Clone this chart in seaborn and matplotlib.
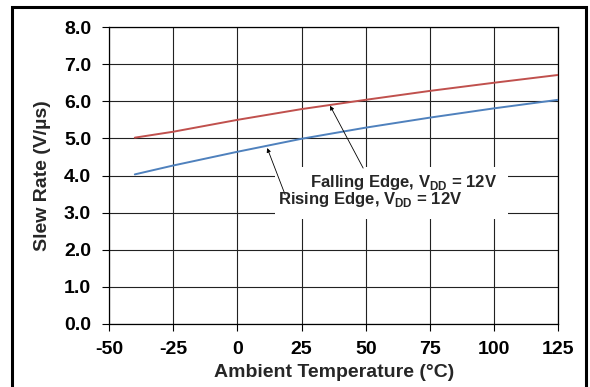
import matplotlib
matplotlib.use("Agg")
import matplotlib.pyplot as plt
import numpy as np
import pandas as pd
import seaborn as sns
from matplotlib.patches import Rectangle

temps = [-40, -25, 0, 25, 50, 75, 100, 125]
falling = [5.02, 5.18, 5.50, 5.79, 6.04, 6.28, 6.50, 6.71]
rising = [4.03, 4.27, 4.64, 4.99, 5.29, 5.56, 5.81, 6.04]
x_ticks = [-50, -25, 0, 25, 50, 75, 100, 125]
y_ticks = [0, 1, 2, 3, 4, 5, 6, 7, 8]

sns.set_style("white")
plt.rcParams["font.family"] = ["Liberation Sans", "DejaVu Sans"]
plt.rcParams["font.weight"] = "bold"
plt.rcParams["axes.unicode_minus"] = False
plt.rcParams["mathtext.fontset"] = "custom"
plt.rcParams["mathtext.bf"] = "Liberation Sans:bold"
plt.rcParams["mathtext.rm"] = "Liberation Sans:bold"

df = pd.DataFrame({
    "temp": temps * 2,
    "rate": falling + rising,
    "edge": ["Falling"] * len(temps) + ["Rising"] * len(temps),
})

fig = plt.figure(figsize=(5.9, 3.87), dpi=100)
ax = fig.add_axes([0.185, 0.163, 0.761, 0.767])

sns.lineplot(data=df, x="temp", y="rate", hue="edge",
             palette={"Falling": "#C0504D", "Rising": "#4F81BD"},
             linewidth=1.4, legend=False, ax=ax, zorder=3)

ax.set_xlim(-50, 125)
ax.set_ylim(0, 8)
ax.set_xticks(x_ticks)
ax.set_yticks(y_ticks)
ax.set_yticklabels([f"{v:.1f}" for v in y_ticks])
ax.grid(True, color="#222222", linewidth=0.8)
ax.set_axisbelow(True)
for s in ax.spines.values():
    s.set_color("black")
    s.set_linewidth(0.9)
ax.tick_params(axis="both", direction="out", length=5, width=0.8, colors="black",
               labelsize=14, bottom=True, left=True)
ax.tick_params(axis="x", pad=7)
ax.tick_params(axis="y", pad=8)
for lbl in ax.get_xticklabels() + ax.get_yticklabels():
    lbl.set_fontweight("bold")

ax.set_xlabel("Ambient Temperature (°C)", fontsize=14, fontweight="bold", va="center")
ax.xaxis.set_label_coords(0.5, -49 / 297)
ax.set_ylabel("Slew Rate (V/µs)", fontsize=14, fontweight="bold", labelpad=9)

# white box behind the annotations
ax.add_patch(Rectangle((14.7, 2.83), 90.8, 1.40, facecolor="white",
                       edgecolor="none", zorder=2))

arrow = dict(arrowstyle="-|>", color="black", lw=0.6, mutation_scale=6,
             shrinkA=0, shrinkB=0)
ax.annotate("", xy=(36.1, 5.88), xytext=(49.0, 4.20), arrowprops=arrow, zorder=4)
ax.annotate("", xy=(11.6, 4.74), xytext=(18.6, 3.48), arrowprops=arrow, zorder=4)
ax.text(28.3, 3.80, r"Falling Edge, V$_{\mathbf{DD}}$ = 12V", fontsize=12,
        fontweight="bold", ha="left", va="center", zorder=4)
ax.text(15.9, 3.34, r"Rising Edge, V$_{\mathbf{DD}}$ = 12V", fontsize=12,
        fontweight="bold", ha="left", va="center", zorder=4)

# outer frame
fig.patches.append(Rectangle((12 / 590, -0.05), 574 / 590, 1.05 - 7 / 387,
                             transform=fig.transFigure, fill=False,
                             edgecolor="black", linewidth=2.2, figure=fig))

fig.savefig("out.png", dpi=100)
